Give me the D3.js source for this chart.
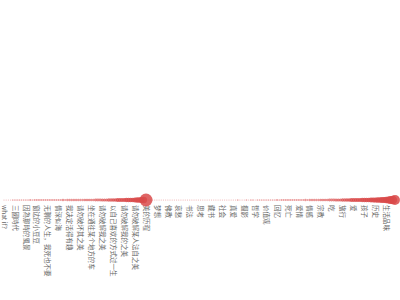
<!DOCTYPE html>
<html>
<head>
<meta charset="utf-8">
<script src="https://cdn.jsdelivr.net/npm/d3@7"></script>
<style>
  body { margin: 0; background: #fff; }
</style>
</head>
<body>
<svg width="400" height="300"></svg>
<script>
//	labels shown under the dots, one for every 5th category
var labels = ["what if?", "三國時代", "因為那時的風景", "窗边的小豆豆", "无聊的人生，我死也不要",
	"情深似海", "我决定活得有趣", "请勿破坏其之美", "坐在通往某个地方的车", "请勿破解我之美",
	"以自己喜欢的方式过一生", "请勿破解我的之美", "请勿破解某人法自之美", "美的历程",
	"梦想", "佛教", "哀愁", "书法", "思考", "藏书", "社会", "真爱", "摄影", "哲学",
	"价值观", "回忆", "死亡", "爱情", "情感", "宗教", "吃", "旅行", "爱", "孩子", "历史", "生活品味"];
var labelStep = 5;

//	tag counts, one per category, left to right
var counts = [
	1, 1, 1, 1, 2, 2, 2, 2, 2, 2,
	2, 2, 3, 2, 3, 3, 3, 3, 3, 3,
	3, 3, 3, 3, 3, 3, 3, 4, 3, 4,
	4, 4, 4, 4, 4, 4, 4, 5, 5, 5,
	5, 5, 6, 6, 6, 7, 7, 7, 8, 8,
	9, 9, 10, 10, 11, 12, 13, 14, 15, 16,
	18, 20, 22, 26, 30, 120, 1, 1, 1, 1,
	1, 1, 1, 1, 1, 1, 1, 1, 1, 1,
	1, 1, 1, 1, 1, 1, 1, 1, 1, 1,
	1, 1, 1, 1, 1, 1, 1, 1, 1, 1,
	1, 1, 1, 1, 1, 1, 1, 2, 1, 1,
	1, 2, 1, 2, 2, 1, 2, 2, 2, 2,
	2, 2, 2, 2, 2, 3, 2, 3, 3, 3,
	3, 3, 3, 3, 3, 3, 3, 3, 4, 3,
	4, 4, 4, 4, 4, 5, 5, 5, 5, 6,
	6, 6, 7, 7, 7, 8, 8, 9, 9, 10,
	10, 11, 12, 12, 13, 14, 15, 16, 17, 18,
	19, 20, 22, 24, 26, 30, 36, 44, 54, 70
];

var svg = d3.select("svg");
var lineY = 200;

var x = d3.scalePoint().domain(d3.range(counts.length)).range([4, 395]);
var r = d3.scaleSqrt().domain([0, d3.max(counts)]).range([0, 6.5]);
var alpha = d3.scaleLinear().domain([1, 10]).range([0.45, 0.85]).clamp(true);

//	axis with a label every labelStep categories
var ticks = d3.range(0, counts.length, labelStep).filter(function(i) { return i / labelStep < labels.length; });
var axis = d3.axisBottom(x)
	.tickValues(ticks)
	.tickFormat(function(i) { return labels[i / labelStep]; })
	.tickSize(0);

var gAxis = svg.append("g")
	.attr("class", "axis")
	.attr("transform", "translate(0," + (lineY + 5) + ")")
	.call(axis);
gAxis.select(".domain").remove();
gAxis.selectAll(".tick line").remove();
//	turn each tick so the label runs downwards
gAxis.selectAll(".tick")
	.attr("transform", function(i) { return "translate(" + x(i) + ",0) rotate(90)"; });
gAxis.selectAll(".tick text")
	.attr("x", 0)
	.attr("y", 2.3)
	.attr("dy", null)
	.attr("fill", "#666")
	.attr("font-size", 6.5)
	.attr("font-family", "'Noto Sans CJK SC', sans-serif")
	.attr("text-anchor", "start");

//	the dots
svg.append("g")
	.selectAll("circle")
	.data(counts)
	.enter().append("circle")
		.attr("cx", function(d, i) { return x(i); })
		.attr("cy", lineY)
		.attr("r", function(d) { return r(d); })
		.attr("fill", "#d94a4a")
		.attr("fill-opacity", function(d) { return alpha(d); });
</script>
</body>
</html>
